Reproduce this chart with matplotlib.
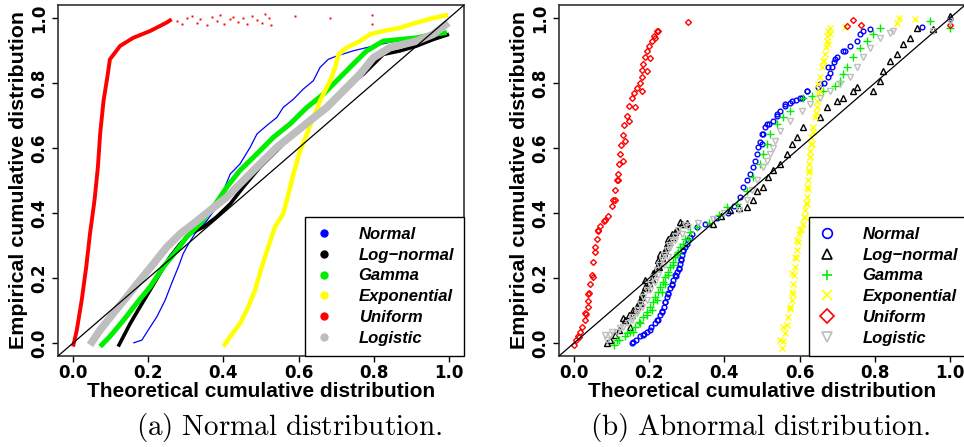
import matplotlib
matplotlib.use("Agg")
import matplotlib.pyplot as plt
from matplotlib.lines import Line2D

plt.rcParams["font.family"] = ["Liberation Sans", "DejaVu Sans"]
plt.rcParams["mathtext.fontset"] = "cm"

series_names = ["Normal", "Log\u2212normal", "Gamma", "Exponential", "Uniform", "Logistic"]
series_colors = ["#0000FF", "#000000", "#00EE00", "#FFFF00", "#FF0000", "#BEBEBE"]
tick_values = [0.0, 0.2, 0.4, 0.6, 0.8, 1.0]
tick_labels = ["0.0", "0.2", "0.4", "0.6", "0.8", "1.0"]
captions = ["(a) Normal distribution.", "(b) Abnormal distribution."]

# ---- panel (a): dense P-P bands (theoretical, empirical) ----
a_normal_x = [0.16, 0.183, 0.20, 0.223, 0.245, 0.262, 0.28, 0.293, 0.307, 0.324, 0.356, 0.382, 0.40, 0.418,
              0.444, 0.471, 0.489, 0.515, 0.542, 0.559, 0.586, 0.612, 0.639, 0.657, 0.679, 0.701, 0.745,
              0.799, 0.87, 0.923, 0.958, 0.994]
a_normal_y = [0.0, 0.009, 0.04, 0.081, 0.132, 0.183, 0.234, 0.275, 0.305, 0.336, 0.377, 0.418, 0.469, 0.52,
              0.551, 0.602, 0.643, 0.669, 0.694, 0.725, 0.75, 0.781, 0.807, 0.848, 0.873, 0.883, 0.899,
              0.914, 0.932, 0.945, 0.95, 0.955]

a_lognorm_x = [0.12, 0.129, 0.152, 0.178, 0.205, 0.231, 0.258, 0.285, 0.311, 0.347, 0.382, 0.418, 0.453,
               0.497, 0.533, 0.568, 0.604, 0.648, 0.692, 0.737, 0.772, 0.799, 0.825, 0.87, 0.914, 0.958, 1.0]
a_lognorm_y = [-0.011, 0.009, 0.06, 0.111, 0.163, 0.214, 0.265, 0.305, 0.336, 0.357, 0.388, 0.428, 0.48,
               0.541, 0.582, 0.623, 0.664, 0.704, 0.745, 0.797, 0.827, 0.858, 0.888, 0.899, 0.914, 0.934, 0.95]

a_gamma_x = [0.072, 0.098, 0.134, 0.169, 0.205, 0.24, 0.276, 0.302, 0.338, 0.373, 0.409, 0.444, 0.489, 0.533,
             0.577, 0.622, 0.666, 0.71, 0.745, 0.781, 0.825, 0.914, 0.958, 0.994]
a_gamma_y = [-0.011, 0.02, 0.07, 0.122, 0.173, 0.234, 0.285, 0.326, 0.367, 0.418, 0.48, 0.531, 0.582, 0.633,
             0.674, 0.725, 0.766, 0.817, 0.858, 0.899, 0.929, 0.939, 0.95, 0.955]

a_expon_x = [0.40, 0.418, 0.444, 0.466, 0.484, 0.502, 0.519, 0.537, 0.559, 0.573, 0.586, 0.604, 0.622, 0.639,
             0.657, 0.67, 0.684, 0.697, 0.706, 0.728, 0.763, 0.79, 0.825, 0.87, 0.914, 0.958, 0.998]
a_expon_y = [-0.011, 0.02, 0.06, 0.111, 0.163, 0.234, 0.295, 0.357, 0.398, 0.459, 0.52, 0.592, 0.643, 0.694,
             0.745, 0.776, 0.807, 0.848, 0.888, 0.909, 0.929, 0.95, 0.96, 0.97, 0.986, 1.0, 1.01]

a_unif_x = [0.0, 0.01, 0.023, 0.035, 0.045, 0.057, 0.066, 0.072, 0.081, 0.091, 0.098, 0.125, 0.16, 0.205,
            0.249, 0.262]
a_unif_y = [-0.011, 0.04, 0.132, 0.234, 0.336, 0.439, 0.541, 0.643, 0.745, 0.817, 0.873, 0.914, 0.939, 0.96,
            0.986, 0.996]
a_unif_tail_x = [0.276, 0.289, 0.302, 0.316, 0.329, 0.338, 0.356, 0.369, 0.382, 0.391, 0.402, 0.418, 0.426,
                 0.44, 0.451, 0.462, 0.475, 0.489, 0.502, 0.511, 0.522, 0.526, 0.59, 0.684, 0.794, 0.794]
a_unif_tail_y = [0.991, 0.981, 1.001, 1.006, 0.986, 0.996, 0.979, 1.003, 0.991, 1.009, 0.981, 0.996, 1.004,
                 0.989, 1.001, 0.983, 1.007, 0.993, 0.985, 1.011, 0.999, 0.979, 1.006, 1.0, 1.01, 0.981]

a_logis_x = [0.045, 0.072, 0.107, 0.143, 0.178, 0.214, 0.249, 0.285, 0.32, 0.364, 0.409, 0.453, 0.497, 0.542,
             0.586, 0.63, 0.675, 0.719, 0.763, 0.799, 0.843, 0.914, 0.958, 0.998]
a_logis_y = [-0.006, 0.04, 0.091, 0.142, 0.193, 0.244, 0.295, 0.336, 0.367, 0.408, 0.449, 0.50, 0.551, 0.602,
             0.643, 0.684, 0.725, 0.776, 0.827, 0.878, 0.909, 0.929, 0.95, 0.986]

# ---- panel (b): individual P-P points ----
b_normal_x = [0.153, 0.165, 0.176, 0.185, 0.193, 0.205, 0.215, 0.222, 0.229, 0.234, 0.238, 0.242, 0.246, 0.251,
              0.255, 0.26, 0.264, 0.27, 0.275, 0.279, 0.282, 0.284, 0.286, 0.291, 0.295, 0.304, 0.313, 0.326,
              0.348, 0.38, 0.41, 0.425, 0.441, 0.45, 0.46, 0.468, 0.475, 0.481, 0.486, 0.49, 0.495, 0.499,
              0.508, 0.518, 0.53, 0.54, 0.548, 0.56, 0.574, 0.59, 0.606, 0.619, 0.65, 0.665, 0.676, 0.681,
              0.685, 0.692, 0.699, 0.716, 0.734, 0.752, 0.761, 0.769, 0.787, 0.925, 1.0,
              0.158, 0.184, 0.202, 0.22, 0.233, 0.242, 0.251, 0.26, 0.269, 0.279, 0.285, 0.291, 0.30, 0.309,
              0.499, 0.503, 0.512, 0.539, 0.561, 0.579, 0.601, 0.619, 0.654, 0.676, 0.694, 0.721]
b_normal_y = [0.0, 0.01, 0.02, 0.028, 0.035, 0.048, 0.06, 0.072, 0.086, 0.098, 0.11, 0.126, 0.142, 0.155,
              0.168, 0.18, 0.193, 0.206, 0.219, 0.232, 0.244, 0.257, 0.27, 0.283, 0.295, 0.316, 0.336, 0.357,
              0.367, 0.385, 0.40, 0.42, 0.449, 0.48, 0.50, 0.52, 0.54, 0.561, 0.58, 0.602, 0.62, 0.643,
              0.664, 0.674, 0.684, 0.70, 0.715, 0.728, 0.74, 0.748, 0.755, 0.776, 0.787, 0.80, 0.817, 0.832,
              0.848, 0.864, 0.879, 0.899, 0.914, 0.929, 0.95, 0.96, 0.965, 0.972, 0.997,
              0.004, 0.025, 0.04, 0.07, 0.096, 0.127, 0.152, 0.178, 0.209, 0.229, 0.255, 0.285, 0.306, 0.326,
              0.613, 0.643, 0.674, 0.704, 0.735, 0.745, 0.755, 0.776, 0.797, 0.848, 0.873, 0.899]

b_lognorm_x = [0.087, 0.095, 0.109, 0.12, 0.136, 0.147, 0.158, 0.167, 0.176, 0.182, 0.189, 0.198, 0.207,
               0.213, 0.22, 0.226, 0.233, 0.24, 0.246, 0.253, 0.26, 0.273, 0.286, 0.301, 0.37, 0.39, 0.415,
               0.44, 0.459, 0.477, 0.486, 0.503, 0.517, 0.53, 0.548, 0.566, 0.579, 0.592, 0.61, 0.654, 0.672,
               0.699, 0.716, 0.743, 0.752, 0.796, 0.814, 0.823, 0.84, 0.858, 0.876, 0.894, 0.911, 0.956, 1.0,
               0.131, 0.153, 0.149, 0.162, 0.176, 0.18, 0.193, 0.189, 0.211, 0.227, 0.222, 0.229, 0.242, 0.246,
               0.251, 0.26, 0.269, 0.282, 0.30]
b_lognorm_y = [0.0, 0.01, 0.025, 0.04, 0.07, 0.085, 0.10, 0.115, 0.132, 0.15, 0.173, 0.185, 0.198, 0.215,
               0.234, 0.245, 0.26, 0.278, 0.295, 0.31, 0.326, 0.347, 0.367, 0.367, 0.367, 0.39, 0.408, 0.415,
               0.418, 0.439, 0.469, 0.48, 0.511, 0.531, 0.551, 0.582, 0.613, 0.633, 0.664, 0.694, 0.725,
               0.745, 0.755, 0.776, 0.787, 0.776, 0.807, 0.837, 0.868, 0.888, 0.919, 0.939, 0.97, 0.965, 1.006,
               0.076, 0.086, 0.05, 0.101, 0.122, 0.142, 0.168, 0.193, 0.214, 0.234, 0.255, 0.275, 0.285, 0.306,
               0.321, 0.336, 0.341, 0.372, 0.369]

b_gamma_x = [0.105, 0.12, 0.136, 0.15, 0.162, 0.172, 0.184, 0.193, 0.202, 0.209, 0.215, 0.222, 0.229, 0.236,
             0.242, 0.249, 0.255, 0.262, 0.269, 0.276, 0.282, 0.295, 0.309, 0.326, 0.36, 0.385, 0.406, 0.433,
             0.459, 0.477, 0.495, 0.503, 0.512, 0.521, 0.539, 0.556, 0.574, 0.61, 0.632, 0.663, 0.694, 0.707,
             0.716, 0.725, 0.743, 0.761, 0.778, 0.796, 0.814, 0.947, 1.0,
             0.114, 0.14, 0.158, 0.176, 0.193, 0.207, 0.22, 0.233, 0.242, 0.251, 0.264, 0.273, 0.291, 0.304]
b_gamma_y = [-0.006, 0.008, 0.02, 0.035, 0.05, 0.065, 0.081, 0.095, 0.111, 0.126, 0.142, 0.158, 0.173, 0.188,
             0.203, 0.218, 0.234, 0.25, 0.265, 0.28, 0.295, 0.321, 0.341, 0.357, 0.37, 0.395, 0.418, 0.428,
             0.469, 0.51, 0.551, 0.582, 0.613, 0.643, 0.674, 0.695, 0.715, 0.755, 0.761, 0.776, 0.792, 0.807,
             0.828, 0.848, 0.879, 0.909, 0.93, 0.95, 0.97, 0.99, 0.97,
             0.009, 0.03, 0.035, 0.06, 0.086, 0.101, 0.132, 0.157, 0.183, 0.209, 0.239, 0.275, 0.306, 0.321]

b_expon_x = [0.552, 0.556, 0.561, 0.566, 0.57, 0.575, 0.579, 0.581, 0.583, 0.586, 0.588, 0.59, 0.592, 0.595,
             0.597, 0.604, 0.61, 0.612, 0.614, 0.617, 0.619, 0.621, 0.623, 0.625, 0.626, 0.627, 0.628, 0.629,
             0.63, 0.635, 0.641, 0.647, 0.645, 0.648, 0.65, 0.655, 0.659, 0.664, 0.668, 0.67, 0.672, 0.674,
             0.676, 0.681, 0.721, 0.858, 0.865, 0.907,
             0.548, 0.557, 0.574, 0.583, 0.579, 0.588, 0.592, 0.601, 0.614, 0.619, 0.62, 0.626, 0.628, 0.632,
             0.636, 0.644, 0.654, 0.663, 0.676, 0.681]
b_expon_y = [-0.016, 0.005, 0.03, 0.055, 0.081, 0.105, 0.132, 0.158, 0.183, 0.21, 0.234, 0.26, 0.285, 0.31,
             0.336, 0.352, 0.367, 0.388, 0.408, 0.43, 0.449, 0.475, 0.50, 0.525, 0.551, 0.572, 0.592, 0.612,
             0.633, 0.664, 0.694, 0.725, 0.745, 0.77, 0.797, 0.82, 0.848, 0.868, 0.888, 0.91, 0.929, 0.945,
             0.96, 0.97, 0.972, 0.986, 1.0, 0.996,
             0.009, 0.05, 0.111, 0.152, 0.214, 0.265, 0.316, 0.347, 0.388, 0.428, 0.48, 0.531, 0.572, 0.612,
             0.648, 0.709, 0.776, 0.868, 0.919, 0.95]

b_unif_x = [0.0, 0.005, 0.01, 0.016, 0.022, 0.029, 0.032, 0.036, 0.038, 0.041, 0.043, 0.047, 0.051, 0.055,
            0.06, 0.065, 0.069, 0.08, 0.091, 0.10, 0.104, 0.109, 0.113, 0.116, 0.119, 0.122, 0.125, 0.129,
            0.134, 0.14, 0.147, 0.153, 0.16, 0.167, 0.175, 0.18, 0.182, 0.184, 0.188, 0.193, 0.20, 0.207,
            0.213, 0.22, 0.304, 0.725, 0.741, 0.762, 1.0,
            0.109, 0.118, 0.131, 0.136, 0.145, 0.162, 0.18, 0.193, 0.202, 0.215, 0.224, 0.065, 0.056, 0.05,
            0.038, 0.029, 0.012, 0.082]
b_unif_y = [-0.005, 0.01, 0.02, 0.034, 0.05, 0.07, 0.09, 0.11, 0.13, 0.155, 0.18, 0.21, 0.25, 0.28, 0.32,
            0.345, 0.36, 0.375, 0.39, 0.42, 0.44, 0.47, 0.50, 0.52, 0.55, 0.58, 0.61, 0.64, 0.67, 0.70, 0.73,
            0.755, 0.77, 0.785, 0.80, 0.82, 0.84, 0.86, 0.88, 0.90, 0.915, 0.93, 0.945, 0.96, 0.988, 0.975,
            0.994, 0.977, 0.98,
            0.439, 0.50, 0.561, 0.623, 0.684, 0.725, 0.776, 0.837, 0.878, 0.939, 0.96, 0.347, 0.295, 0.203,
            0.152, 0.091, 0.019, 0.377]

b_logis_x = [0.087, 0.095, 0.114, 0.13, 0.144, 0.155, 0.167, 0.175, 0.184, 0.193, 0.202, 0.211, 0.22, 0.226,
             0.233, 0.24, 0.246, 0.253, 0.26, 0.268, 0.277, 0.295, 0.33, 0.37, 0.40, 0.44, 0.459, 0.472, 0.486,
             0.503, 0.512, 0.521, 0.528, 0.535, 0.548, 0.574, 0.606, 0.628, 0.654, 0.681, 0.707, 0.734, 0.752,
             0.769, 0.787, 0.814, 0.84, 0.849, 0.956, 1.0,
             0.082, 0.10, 0.122, 0.153, 0.167, 0.18, 0.193, 0.202, 0.215, 0.224, 0.238, 0.251, 0.255, 0.269,
             0.286, 0.304]
b_logis_y = [0.01, 0.025, 0.035, 0.048, 0.06, 0.08, 0.10, 0.12, 0.142, 0.162, 0.183, 0.204, 0.224, 0.24,
             0.255, 0.27, 0.285, 0.30, 0.316, 0.33, 0.347, 0.362, 0.37, 0.38, 0.40, 0.41, 0.439, 0.47, 0.50,
             0.541, 0.56, 0.582, 0.60, 0.623, 0.653, 0.684, 0.715, 0.735, 0.755, 0.776, 0.796, 0.817, 0.848,
             0.879, 0.909, 0.939, 0.955, 0.96, 0.96, 0.99,
             0.025, 0.035, 0.045, 0.07, 0.091, 0.111, 0.132, 0.163, 0.188, 0.209, 0.239, 0.265, 0.295, 0.316,
             0.336, 0.357]

band_widths = [0.9, 2.6, 3.6, 3.2, 2.8, 5.5]
markers_b = ["o", "^", "+", "x", "D", "v"]
marker_sizes_b = [3.4, 4.4, 5.6, 4.2, 3.0, 4.4]

fig = plt.figure(figsize=(9.64, 4.47), dpi=100)
ax_a = fig.add_axes([0.0602, 0.2036, 0.4212, 0.7852])
ax_b = fig.add_axes([0.5799, 0.2036, 0.4212, 0.7852])


def style_axes(ax):
    ax.set_xlim(-0.04, 1.04)
    ax.set_ylim(-0.04, 1.04)
    ax.set_xticks(tick_values)
    ax.set_yticks(tick_values)
    tick_font = {"family": "DejaVu Sans", "size": 12, "weight": "bold"}
    ax.set_xticklabels(tick_labels, fontdict=tick_font)
    ax.set_yticklabels(tick_labels, fontdict=tick_font, rotation=90, va="center")
    ax.tick_params(direction="out", length=4, width=1, pad=2)
    ax.tick_params(axis="y", pad=3)
    for sp in ax.spines.values():
        sp.set_color("#333333")
        sp.set_linewidth(1.2)
    ax.set_xlabel("Theoretical cumulative distribution", fontsize=15, fontweight="bold", labelpad=0)
    ax.set_ylabel("Empirical cumulative distribution", fontsize=15.4, fontweight="bold", labelpad=2)
    # reference diagonal y = x, drawn above the data
    ax.axline((0, 0), (1, 1), color="black", lw=0.9, zorder=3)


# panel (a)
style_axes(ax_a)
a_series = [(a_normal_x, a_normal_y), (a_lognorm_x, a_lognorm_y), (a_gamma_x, a_gamma_y),
            (a_expon_x, a_expon_y), (a_unif_x, a_unif_y), (a_logis_x, a_logis_y)]
for (xs, ys), col, lw in zip(a_series, series_colors, band_widths):
    ax_a.plot(xs, ys, color=col, lw=lw, solid_capstyle="butt", solid_joinstyle="round", zorder=2)
ax_a.plot(a_unif_tail_x, a_unif_tail_y, ls="none", marker="s", ms=1.4, color=series_colors[4], mew=0, zorder=2)

handles_a = [Line2D([], [], ls="none", marker="o", ms=5, color=c) for c in series_colors]
leg_a = ax_a.legend(handles_a, series_names, loc="lower right", bbox_to_anchor=(1.0, 0.0),
                    borderaxespad=0, fancybox=False, framealpha=1, edgecolor="black",
                    prop={"size": 12, "weight": "bold", "style": "italic"},
                    handlelength=1.0, handletextpad=1.6, labelspacing=0.35, borderpad=0.6)
leg_a.get_frame().set_linewidth(1.0)
leg_a.set_zorder(5)

# panel (b)
style_axes(ax_b)
b_series = [(b_normal_x, b_normal_y), (b_lognorm_x, b_lognorm_y), (b_gamma_x, b_gamma_y),
            (b_expon_x, b_expon_y), (b_unif_x, b_unif_y), (b_logis_x, b_logis_y)]
for (xs, ys), col, mk, ms in zip(b_series, series_colors, markers_b, marker_sizes_b):
    ax_b.plot(xs, ys, ls="none", marker=mk, ms=ms, mfc="none", mec=col, mew=1.0, zorder=2)

handles_b = [Line2D([], [], ls="none", marker=mk, ms=7, mfc="none", mec=c, mew=1.2)
             for mk, c in zip(markers_b, series_colors)]
leg_b = ax_b.legend(handles_b, series_names, loc="lower left", bbox_to_anchor=(0.6159, 0.0),
                    borderaxespad=0, fancybox=False, framealpha=1, edgecolor="black",
                    prop={"size": 12, "weight": "bold", "style": "italic"},
                    handlelength=1.0, handletextpad=1.6, labelspacing=0.35, borderpad=0.6)
leg_b.get_frame().set_linewidth(1.0)
leg_b.set_zorder(5)

fig.text(289 / 964, 1 - 427 / 447, r"$\mathrm{" + captions[0].replace(" ", r"\ ") + "}$",
         ha="center", va="center", fontsize=21)
fig.text(760 / 964, 1 - 427 / 447, r"$\mathrm{" + captions[1].replace(" ", r"\ ") + "}$",
         ha="center", va="center", fontsize=21)

fig.savefig("out.png", dpi=100)
